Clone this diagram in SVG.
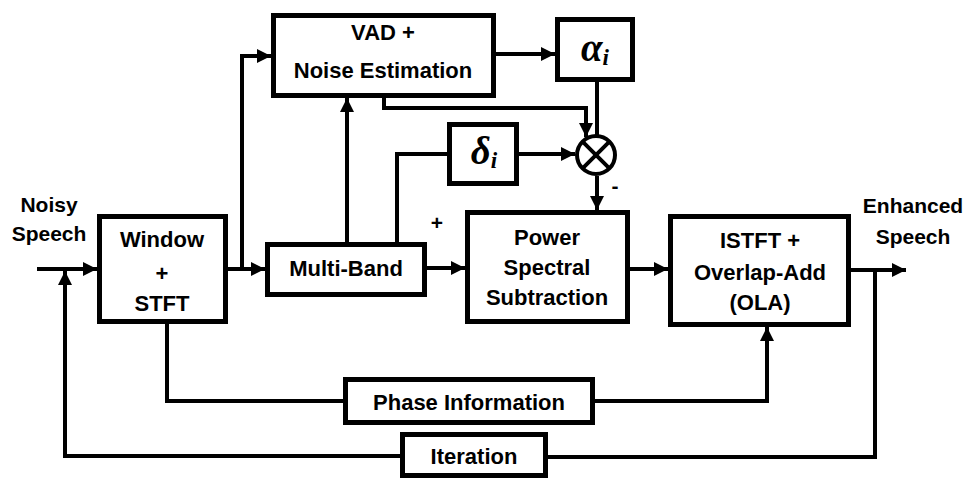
<svg xmlns="http://www.w3.org/2000/svg" width="970" height="478" viewBox="0 0 970 478">
<defs>
<marker id="ah" markerUnits="userSpaceOnUse" markerWidth="14" markerHeight="14" refX="14" refY="7" orient="auto" viewBox="0 0 14 14">
<path d="M0,0 L14,7 L0,14 z" fill="#000"/>
</marker>
<style>
.box{fill:#fff;stroke:#000;stroke-width:5}
.ln{fill:none;stroke:#000;stroke-width:4}
.ar{marker-end:url(#ah)}
.t{font-family:"Liberation Sans",Arial,sans-serif;font-weight:bold;font-size:22px;text-anchor:middle;fill:#000}
.s{font-size:21px}
.g{font-family:"Liberation Serif","Times New Roman",serif;font-weight:bold;font-style:italic;font-size:39px;text-anchor:middle;fill:#000}
</style>
</defs>
<rect width="970" height="478" fill="#fff"/>
<g id="connectors">
<path class="ln ar" d="M37,269 H97"/>
<path class="ln ar" d="M400,456 H65 V271"/>
<path class="ln" d="M548,457 H875 V270"/>
<path class="ln ar" d="M228,269 H265"/>
<path class="ln ar" d="M242,269 V56 H271"/>
<path class="ln ar" d="M347,242 V98"/>
<path class="ln" d="M397,242 V154 H447"/>
<path class="ln ar" d="M519,154 H575"/>
<path class="ln ar" d="M384,98 V108 H586 V137"/>
<path class="ln" d="M597,82 V136"/>
<path class="ln ar" d="M496,54 H555"/>
<path class="ln ar" d="M597,176 V210"/>
<path class="ln ar" d="M427,268 H465"/>
<path class="ln ar" d="M630,269 H668"/>
<path class="ln ar" d="M851,270 H906"/>
<path class="ln" d="M167,324 V401 H343"/>
<path class="ln ar" d="M595,401 H767 V327"/>
</g>
<g id="labels">
<text class="t s" x="49" y="212">Noisy</text>
<text class="t s" x="49" y="241">Speech</text>
<text class="t s" x="913" y="213">Enhanced</text>
<text class="t s" x="913" y="244">Speech</text>
<text class="t s" x="437" y="230">+</text>
<text class="t s" x="615" y="193">-</text>
</g>
<g id="window">
<rect class="box" x="99.5" y="216.5" width="126" height="105"/>
<text class="t" x="162" y="247">Window</text>
<text class="t" x="162" y="281">+</text>
<text class="t" x="162" y="311">STFT</text>
</g>
<g id="multiband">
<rect class="box" x="267.5" y="244.5" width="157" height="50"/>
<text class="t" x="346" y="276">Multi-Band</text>
</g>
<g id="vad">
<rect class="box" x="273.5" y="15.5" width="220" height="80"/>
<text class="t" x="383" y="40">VAD +</text>
<text class="t" x="383" y="78">Noise Estimation</text>
</g>
<g id="alpha">
<rect class="box" x="557.5" y="19.5" width="75" height="60"/>
<text class="g" x="595" y="61">α<tspan font-size="23" dy="4">i</tspan></text>
</g>
<g id="delta">
<rect class="box" x="449.5" y="124.5" width="67" height="59"/>
<text class="g" x="484" y="164">δ<tspan font-size="23" dy="4">i</tspan></text>
</g>
<g id="multiplier">
<circle cx="596" cy="155" r="19" fill="#fff" stroke="#000" stroke-width="4"/>
<path class="ln" d="M582.6,141.6 L609.4,168.4 M609.4,141.6 L582.6,168.4"/>
</g>
<g id="pss">
<rect class="box" x="467.5" y="212.5" width="160" height="109"/>
<text class="t" x="547" y="245">Power</text>
<text class="t" x="547" y="275">Spectral</text>
<text class="t" x="547" y="305">Subtraction</text>
</g>
<g id="istft">
<rect class="box" x="670.5" y="216.5" width="178" height="108"/>
<text class="t" x="760" y="248">ISTFT +</text>
<text class="t" x="760" y="280">Overlap-Add</text>
<text class="t" x="760" y="310">(OLA)</text>
</g>
<g id="phase">
<rect class="box" x="345.5" y="379.5" width="247" height="43"/>
<text class="t" x="469" y="410">Phase Information</text>
</g>
<g id="iteration">
<rect class="box" x="402.5" y="434.5" width="143" height="41"/>
<text class="t" x="474" y="464">Iteration</text>
</g>
</svg>
